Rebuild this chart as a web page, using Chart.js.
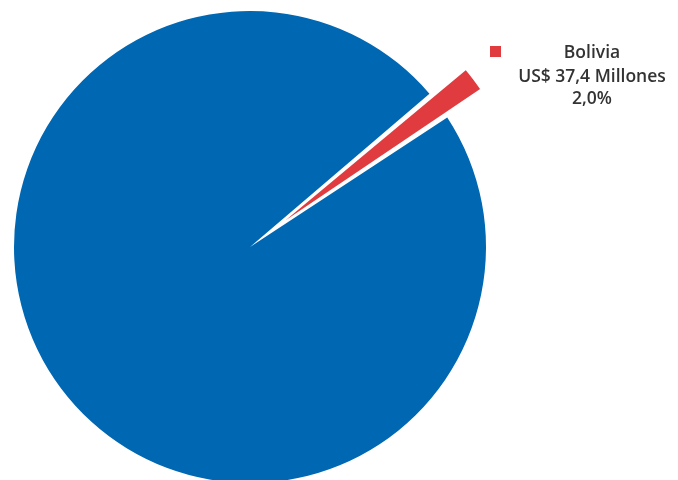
<!DOCTYPE html>
<html>
<head>
<meta charset="utf-8">
<script src="https://cdn.jsdelivr.net/npm/chart.js@4/dist/chart.umd.min.js"></script>
<style>
html,body{margin:0;padding:0;background:#fff;}
#wrap{width:678px;height:480px;position:relative;}
</style>
</head>
<body>
<div id="wrap"><canvas id="c" width="678" height="480"></canvas></div>
<script>
const categories = ["Bolivia", "Resto"];
const values = [37.4, 1832.6];
const valueLabels = ["US$ 37,4 Millones", ""];
const percentLabels = ["2,0%", ""];
const colors = ["#E03C40", "#0067B3"];

const labelPlugin = {
  id: 'sliceLabel',
  afterDraw(chart) {
    const ctx = chart.ctx;
    ctx.save();
    ctx.fillStyle = colors[0];
    ctx.fillRect(490, 46, 11, 11);
    ctx.fillStyle = '#333333';
    ctx.font = '600 17.5px "Open Sans", sans-serif';
    ctx.textAlign = 'center';
    ctx.textBaseline = 'middle';
    const cx = 592;
    ctx.fillText(categories[0], cx, 53);
    ctx.fillText(valueLabels[0], cx, 77);
    ctx.fillText(percentLabels[0], cx, 99);
    ctx.restore();
  }
};

new Chart(document.getElementById('c'), {
  type: 'pie',
  data: {
    labels: categories,
    datasets: [{
      data: values,
      backgroundColor: colors,
      borderColor: '#ffffff',
      borderWidth: [2, 0],
      offset: [94, 0]
    }]
  },
  options: {
    responsive: false,
    animation: false,
    rotation: 49.5,
    radius: 236,
    layout: { padding: { left: 0, right: 178, top: 14, bottom: 0 } },
    plugins: {
      legend: { display: false },
      tooltip: { enabled: false }
    }
  },
  plugins: [labelPlugin]
});
</script>
</body>
</html>
